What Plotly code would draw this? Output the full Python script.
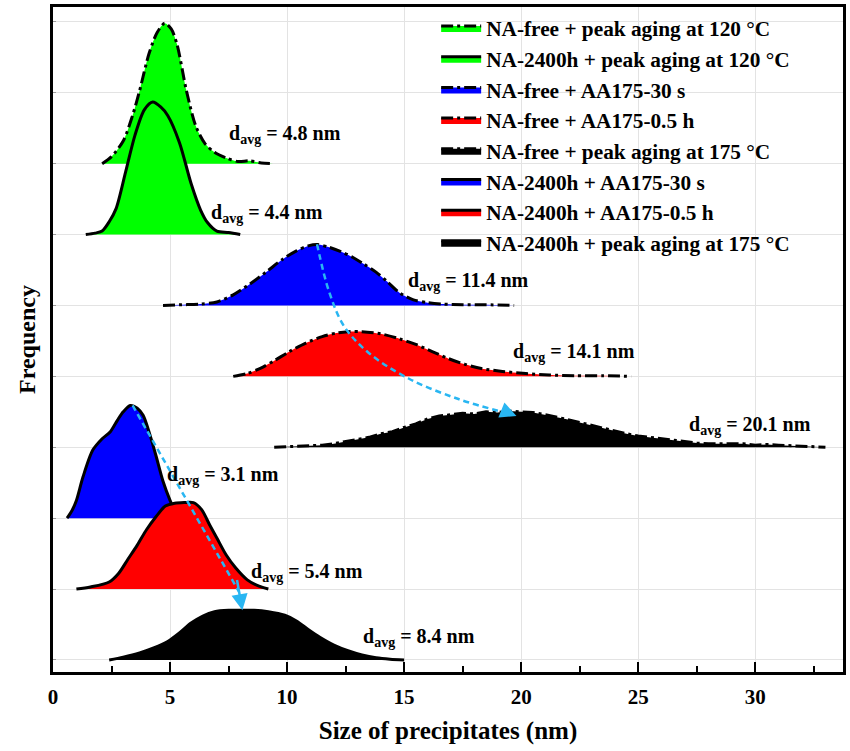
import plotly.graph_objects as go

# ---- size distributions (x: size in nm, h: relative frequency above each offset baseline)
# NA-free + peak aging at 120 °C
x_na_free_120 = [2.1, 2.5, 3.0, 3.4, 3.7, 4.1, 4.45, 4.77, 5.05, 5.3, 5.7, 6.1, 6.5, 6.9, 7.4, 7.9, 8.4, 8.9, 9.4]
h_na_free_120 = [0, 0.1, 0.32, 0.68, 1.03, 1.55, 1.85, 1.98, 1.9, 1.68, 1.03, 0.53, 0.28, 0.16, 0.08, 0.03, 0.04, 0.01, 0]
# NA-2400h + peak aging at 120 °C
x_na2400_120 = [1.4, 1.8, 2.1, 2.4, 2.7, 3.1, 3.5, 3.9, 4.26, 4.6, 4.9, 5.4, 5.9, 6.3, 6.6, 7.0, 7.5, 8.0]
h_na2400_120 = [0, 0.02, 0.05, 0.18, 0.37, 0.88, 1.4, 1.76, 1.87, 1.8, 1.68, 1.3, 0.72, 0.35, 0.17, 0.05, 0.03, 0]
# NA-free + AA175-30 s
x_na_free_30s = [4.7, 5.5, 6.3, 7.0, 7.7, 8.4, 9.1, 9.8, 10.4, 10.9, 11.3, 11.8, 12.3, 12.8, 13.3, 13.8,
                 14.3, 14.8, 15.4, 16.0, 16.6, 17.5, 18.5, 19.7]
h_na_free_30s = [0, 0.01, 0.02, 0.05, 0.15, 0.3, 0.47, 0.65, 0.77, 0.84, 0.86, 0.82, 0.76, 0.68, 0.58, 0.47,
                 0.33, 0.18, 0.08, 0.04, 0.02, 0.01, 0.01, 0]
# NA-free + AA175-0.5 h
x_na_free_05h = [7.7, 8.3, 8.9, 9.5, 10.1, 10.8, 11.5, 12.1, 12.6, 13.2, 14.0, 14.8, 15.5, 16.2, 16.9, 17.6,
                 18.3, 19.2, 20.2, 21.2, 22.3, 23.5, 24.7]
h_na_free_05h = [0, 0.04, 0.12, 0.23, 0.35, 0.47, 0.56, 0.61, 0.63, 0.63, 0.6, 0.53, 0.45, 0.35, 0.25, 0.17,
                 0.11, 0.07, 0.04, 0.02, 0.01, 0.01, 0]
# NA-free + peak aging at 175 °C
x_na_free_175 = [9.45, 10.0, 10.5, 11.0, 11.5, 12.0, 12.5, 13.0, 13.5, 14.0, 14.5, 15.0, 15.5, 16.0, 16.5, 17.0,
                 17.5, 18.0, 18.5, 19.0, 19.5, 20.0, 20.5, 21.0, 21.5, 22.0, 22.5, 23.0, 23.5, 24.0, 24.5, 25.0,
                 25.5, 26.0, 26.5, 27.0, 27.5, 28.0, 28.5, 29.0, 29.5, 30.0, 30.5, 31.0, 31.5, 32.0, 32.5, 33.0]
h_na_free_175 = [0, 0.01, 0.02, 0.03, 0.03, 0.05, 0.08, 0.1, 0.14, 0.19, 0.22, 0.28, 0.33, 0.4, 0.44, 0.46,
                 0.48, 0.47, 0.5, 0.49, 0.51, 0.5, 0.49, 0.46, 0.43, 0.39, 0.35, 0.31, 0.27, 0.22, 0.19, 0.16,
                 0.14, 0.11, 0.1, 0.08, 0.06, 0.05, 0.05, 0.04, 0.05, 0.03, 0.04, 0.03, 0.02, 0.01, 0.01, 0]
# NA-2400h + AA175-30 s
x_na2400_30s = [0.6, 0.8, 1.0, 1.28, 1.7, 2.1, 2.45, 2.75, 3.0, 3.3, 3.6, 3.85, 4.1, 4.4, 4.7, 5.0, 5.25, 5.4]
h_na2400_30s = [0, 0.1, 0.25, 0.58, 0.96, 1.12, 1.22, 1.38, 1.5, 1.59, 1.55, 1.45, 1.22, 0.88, 0.52, 0.25, 0.07, 0]
# NA-2400h + AA175-0.5 h
x_na2400_05h = [1.0, 1.6, 2.4, 2.8, 3.2, 3.6, 4.0, 4.4, 4.8, 5.2, 5.6, 6.0, 6.35, 6.7, 7.0, 7.4, 7.8, 8.3, 8.8, 9.2]
h_na2400_05h = [0, 0.03, 0.1, 0.22, 0.42, 0.62, 0.84, 1.02, 1.17, 1.21, 1.22, 1.22, 1.12, 0.9, 0.72, 0.48, 0.3,
                0.13, 0.04, 0]
# NA-2400h + peak aging at 175 °C
x_na2400_175 = [2.4, 3.0, 3.7, 4.3, 4.9, 5.4, 5.9, 6.4, 6.9, 7.5, 8.0, 8.6, 9.2, 9.9, 10.4, 10.9, 11.4, 12.0,
                12.6, 13.2, 13.8, 14.4, 15.0]
h_na2400_175 = [0, 0.04, 0.1, 0.17, 0.26, 0.38, 0.52, 0.62, 0.68, 0.7, 0.7, 0.7, 0.68, 0.63, 0.55, 0.43, 0.32,
                0.21, 0.13, 0.07, 0.03, 0.01, 0]

names = ["NA-free + peak aging at 120 °C", "NA-2400h + peak aging at 120 °C",
         "NA-free + AA175-30 s", "NA-free + AA175-0.5 h", "NA-free + peak aging at 175 °C",
         "NA-2400h + AA175-30 s", "NA-2400h + AA175-0.5 h", "NA-2400h + peak aging at 175 °C"]
xs = [x_na_free_120, x_na2400_120, x_na_free_30s, x_na_free_05h, x_na_free_175,
      x_na2400_30s, x_na2400_05h, x_na2400_175]
hs = [h_na_free_120, h_na2400_120, h_na_free_30s, h_na_free_05h, h_na_free_175,
      h_na2400_30s, h_na2400_05h, h_na2400_175]
baselines = [7, 6, 5, 4, 3, 2, 1, 0]
fills = ["#00ff00", "#00ff00", "#0000ff", "#ff0000", "#000000", "#0000ff", "#ff0000", "#000000"]
dashes = ["dashdot", "solid", "dashdot", "dashdot", "dashdot", "solid", "solid", "solid"]
smooth = [True, True, True, True, False, True, True, True]

# average sizes and label anchors (x, y in data units)
d_avg = ["4.8", "4.4", "11.4", "14.1", "20.1", "5.4", "8.4", "3.1"]
label_x = [7.45, 6.68, 15.1, 19.57, 27.1, 8.38, 13.15, 4.77]
label_y = [7.41, 6.30, 5.34, 4.33, 3.31, 1.24, 0.32, 2.60]

# guide arrows (trend of the peak position)
arrow1_x = [11.28, 11.79, 12.43, 13.49, 15.19, 17.32, 19.3]
arrow1_y = [5.865, 5.20, 4.71, 4.33, 3.97, 3.68, 3.49]
arrow2_x = [3.40, 7.95]
arrow2_y = [3.59, 0.96]
arrow_color = "#29b6f2"

FONT = "Liberation Serif"

fig = go.Figure()
for i in range(len(names)):
    y = [baselines[i] + v for v in hs[i]]
    dash = "12px,4px,3px,4px" if dashes[i] == "dashdot" else "solid"
    fig.add_trace(go.Scatter(
        x=xs[i], y=y, mode="lines", name=names[i],
        fill="toself", fillcolor=fills[i],
        line=dict(color="black", width=3, dash=dash,
                  shape="spline" if smooth[i] else "linear", smoothing=0.8),
        legendrank=i + 1,
        hoverinfo="skip",
    ))

fig.add_trace(go.Scatter(x=arrow1_x, y=arrow1_y, mode="lines", showlegend=False,
                         line=dict(color=arrow_color, width=2.5, dash="6px,4px", shape="spline"),
                         hoverinfo="skip"))
fig.add_trace(go.Scatter(x=arrow2_x, y=arrow2_y, mode="lines", showlegend=False,
                         line=dict(color=arrow_color, width=2.5, dash="6px,4px"),
                         hoverinfo="skip"))

annotations = []
for k, txt in enumerate(d_avg):
    annotations.append(dict(
        x=label_x[k], y=label_y[k], xref="x", yref="y", xanchor="left", yanchor="middle",
        text=f"d<sub>avg</sub> = {txt} nm", showarrow=False,
        font=dict(family=FONT, size=20, color="black", weight="bold"),
    ))
# arrow heads
annotations.append(dict(x=19.8, y=3.44, ax=19.2, ay=3.52, xref="x", yref="y", axref="x", ayref="y",
                        text="", showarrow=True, arrowhead=2, arrowsize=1.3, arrowwidth=2.5,
                        arrowcolor=arrow_color, standoff=0))
annotations.append(dict(x=8.09, y=0.70, ax=7.85, ay=1.15, xref="x", yref="y", axref="x", ayref="y",
                        text="", showarrow=True, arrowhead=2, arrowsize=1.3, arrowwidth=2.5,
                        arrowcolor=arrow_color, standoff=0))

fig.update_layout(
    width=850, height=751,
    margin=dict(l=53, r=4, t=5, b=79),
    paper_bgcolor="white", plot_bgcolor="white",
    font=dict(family=FONT, size=18, color="black", weight="bold"),
    showlegend=True,
    legend=dict(x=0.485, y=0.999, xanchor="left", yanchor="top", bgcolor="rgba(0,0,0,0)",
                font=dict(family=FONT, size=21.3, color="black", weight="bold"),
                tracegroupgap=0, itemwidth=40),
    annotations=annotations,
)
fig.update_xaxes(
    range=[0, 33.75], tickmode="linear", tick0=0, dtick=5,
    showgrid=True, gridcolor="#e3e3e3", gridwidth=1, zeroline=False,
    showline=True, linecolor="black", linewidth=3, mirror=True,
    ticks="inside", ticklen=10, tickwidth=2, tickcolor="black",
    minor=dict(ticks="inside", ticklen=6, tickwidth=2, dtick=2.5, tick0=0, showgrid=False, tickcolor="black"),
    tickfont=dict(family=FONT, size=21, weight="bold"), ticklabelstandoff=4,
    title=dict(text="Size of precipitates (nm)", font=dict(family=FONT, size=25, weight="bold"), standoff=14),
)
fig.update_yaxes(
    range=[-0.17, 9.21], tickmode="linear", tick0=0, dtick=1,
    showgrid=True, gridcolor="#e3e3e3", gridwidth=1, zeroline=False,
    showline=True, linecolor="black", linewidth=3, mirror=True,
    ticks="inside", ticklen=3, tickwidth=1, tickcolor="#999999", showticklabels=False,
    title=dict(text="Frequency", font=dict(family=FONT, size=24, weight="bold"), standoff=8),
)

fig.write_html("out.html")
